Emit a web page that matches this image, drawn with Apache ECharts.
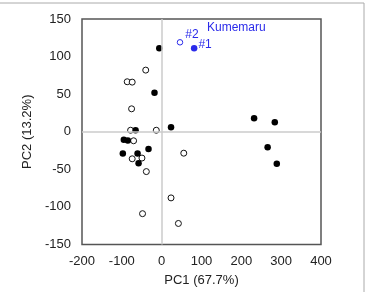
<!DOCTYPE html>
<html>
<head>
<meta charset="utf-8">
<script src="https://cdn.jsdelivr.net/npm/echarts@6/dist/echarts.min.js"></script>
<style>
  html, body { margin: 0; padding: 0; background: #fff; }
  #chart { width: 367px; height: 292px; }
</style>
</head>
<body>
<div id="chart"></div>
<script>
// PCA scores
const filledPts = [
  [-6, 111], [-18, 52], [23.5, 6], [-65.5, 2], [-95, -10.5], [-85, -11.5],
  [-33, -23], [-97.5, -29], [-60.5, -29], [-58, -42],
  [232, 18], [284, 12.5], [266, -20.5], [289, -42.5]
]
const openPts = [
  [-40, 82], [-86.5, 66.5], [-74, 66], [-75.5, 30.5], [-78, 2], [-13.5, 2],
  [-70.5, -12], [-74, -36], [-49.5, -35], [-38.5, -53], [55.5, -28.5],
  [23.5, -88], [-48, -109], [42, -122]
]
const kumemaru1 = [[81.5, 111]]
const kumemaru2 = [[46, 119]]
const xTicks = [-200, 400, 100]
const yTicks = [-150, 150, 50]

const chart = echarts.init(document.getElementById('chart'))
const font = 'Liberation Sans, Arial, sans-serif'
const blue = '#2b2bea'

chart.setOption({
  animation: false,
  grid: {
    left: 82, right: 46, top: 19, bottom: 47.5,
    show: true, borderColor: '#555', borderWidth: 1.5, backgroundColor: 'transparent'
  },
  graphic: [
    { type: 'line', shape: { x1: 0, y1: 3, x2: 364, y2: 3 }, style: { stroke: '#aaa', lineWidth: 1 } },
    { type: 'line', shape: { x1: 364, y1: 3, x2: 364, y2: 292 }, style: { stroke: '#aaa', lineWidth: 1 } },
    {
      type: 'text', left: 207, top: 22,
      style: { text: 'Kumemaru', fill: blue, font: '12px ' + font }
    }
  ],
  xAxis: {
    type: 'value', min: xTicks[0], max: xTicks[1], interval: xTicks[2],
    name: 'PC1 (67.7%)', nameLocation: 'middle', nameGap: 29,
    nameTextStyle: { color: '#222', fontSize: 13, fontFamily: font },
    axisLine: { show: false }, axisTick: { show: false }, splitLine: { show: false },
    axisLabel: { color: '#222', fontSize: 13, fontFamily: font, margin: 10 }
  },
  yAxis: {
    type: 'value', min: yTicks[0], max: yTicks[1], interval: yTicks[2],
    name: 'PC2 (13.2%)', nameLocation: 'middle', nameGap: 44, nameRotate: 90,
    nameTextStyle: { color: '#222', fontSize: 13, fontFamily: font },
    axisLine: { show: false }, axisTick: { show: false }, splitLine: { show: false },
    axisLabel: { color: '#222', fontSize: 13, fontFamily: font, margin: 11 }
  },
  series: [
    {
      type: 'scatter', data: [], z: 1, silent: true,
      markLine: {
        silent: true, symbol: 'none', label: { show: false },
        lineStyle: { color: '#cbcbcb', width: 1.5, type: 'solid' },
        data: [{ xAxis: 0 }, { yAxis: 0 }]
      }
    },
    {
      type: 'scatter', data: openPts, symbolSize: 6, z: 3,
      itemStyle: { color: '#fff', borderColor: '#111', borderWidth: 1, opacity: 1 }
    },
    {
      type: 'scatter', data: filledPts, symbolSize: 6.5, z: 4,
      itemStyle: { color: '#000', opacity: 1 }
    },
    {
      type: 'scatter', data: kumemaru1, symbolSize: 6.5, z: 4,
      itemStyle: { color: blue, opacity: 1 },
      label: {
        show: true, formatter: '#1', position: 'right', distance: 1, offset: [0, -4],
        color: blue, fontSize: 12, fontFamily: font
      }
    },
    {
      type: 'scatter', data: kumemaru2, symbolSize: 5.5, z: 4,
      itemStyle: { color: '#fff', borderColor: blue, borderWidth: 1, opacity: 1 },
      label: {
        show: true, formatter: '#2', position: 'right', distance: 2, offset: [0, -8],
        color: blue, fontSize: 12, fontFamily: font
      }
    }
  ]
})
</script>
</body>
</html>
